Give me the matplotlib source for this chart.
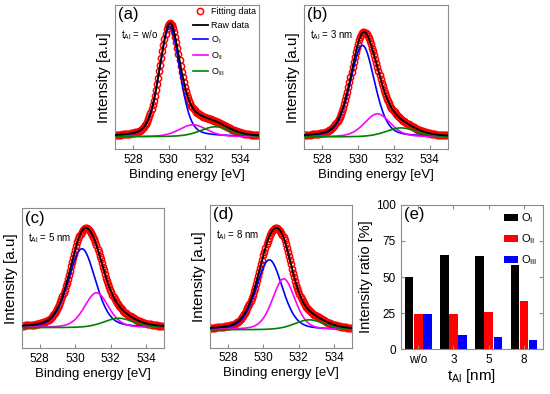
import numpy as np
import matplotlib
matplotlib.use("Agg")
import matplotlib.pyplot as plt
from matplotlib.ticker import MultipleLocator

plt.rcParams['font.family'] = ['Liberation Sans Narrow', 'Liberation Sans', 'DejaVu Sans']
plt.rcParams['mathtext.default'] = 'regular'

# O 1s fitted components for each Al thickness (centre eV, height a.u., FWHM eV)
panel_tags = ["(a)", "(b)", "(c)", "(d)"]
thickness = ["w/o", "3 nm", "5 nm", "8 nm"]
o1_center = [530.05, 530.25, 530.38, 530.34]
o1_height = [110, 91, 79, 70]
o1_fwhm = [1.35, 1.60, 1.80, 1.75]
o2_center = [531.35, 531.08, 531.20, 531.15]
o2_height = [12, 23, 35, 51]
o2_fwhm = [1.80, 1.70, 1.60, 1.50]
o3_center = [532.60, 532.40, 532.45, 532.60]
o3_height = [10, 9, 9.5, 10]
o3_fwhm = [2.00, 2.00, 2.00, 2.00]

# intensity ratio of the components [%]
t_al = ["w/o", "3", "5", "8"]
ratio_o1 = [50, 65, 64.5, 58]
ratio_o2 = [24, 24, 26, 33.5]
ratio_o3 = [24.5, 9.4, 8, 6.6]

energy = np.linspace(527, 535, 400)
sample_energy = np.arange(527.0, 535.01, 0.06)


def peak(e, c, h, fwhm, eta=0.3):
    g = np.exp(-4 * np.log(2) * (e - c) ** 2 / fwhm ** 2)
    lo = 1 / (1 + 4 * (e - c) ** 2 / fwhm ** 2)
    return h * (eta * lo + (1 - eta) * g)


fig = plt.figure(figsize=(5.5, 3.94), dpi=100)
boxes = [[0.209, 0.621, 0.261, 0.366],
         [0.553, 0.621, 0.261, 0.366],
         [0.040, 0.116, 0.258, 0.355],
         [0.382, 0.118, 0.258, 0.362]]
ylims = [(-12.6, 131.7), (-12.3, 131), (-20.6, 119.4), (-17.7, 125)]
spine_col = '#8c8c8c'

for i in range(4):
    ax = fig.add_axes(boxes[i])
    comps = []
    samples = []
    for c, h, f in [(o1_center[i], o1_height[i], o1_fwhm[i]),
                    (o2_center[i], o2_height[i], o2_fwhm[i]),
                    (o3_center[i], o3_height[i], o3_fwhm[i])]:
        comps.append(peak(energy, c, h, f))
        samples.append(peak(sample_energy, c, h, f))
    total = sum(comps)
    ax.plot(sample_energy, sum(samples), 'o', mfc='none', mec='red', ms=4.5,
            mew=1.1, label='Fitting data', zorder=2)
    ax.plot(energy, total, color='black', lw=1.3, label='Raw data', zorder=4)
    ax.plot(energy, comps[0], color='blue', lw=1.2, label='O$_{I}$', zorder=3)
    ax.plot(energy, comps[1], color='magenta', lw=1.2, label='O$_{II}$', zorder=3)
    ax.plot(energy, comps[2], color='green', lw=1.2, label='O$_{III}$', zorder=3)
    ax.set_xlim(527, 535)
    ax.set_ylim(*ylims[i])
    ax.set_yticks([])
    ax.xaxis.set_major_locator(MultipleLocator(2))
    ax.tick_params(axis='x', direction='in', length=3, labelsize=8.5, color=spine_col)
    for sp in ax.spines.values():
        sp.set_color(spine_col)
    ax.set_xlabel('Binding energy [eV]', fontsize=9.5, labelpad=2)
    ax.set_ylabel('Intensity [a.u]', fontsize=11, labelpad=3,
                  family=['Liberation Sans', 'DejaVu Sans'])
    ax.text(0.02, 0.985, panel_tags[i], transform=ax.transAxes, fontsize=12,
            va='top', ha='left')
    ax.text(0.04, 0.79, 't$_{Al}$ = ' + thickness[i], transform=ax.transAxes,
            fontsize=7, va='center', ha='left')
    if i == 0:
        ax.legend(loc='upper right', fontsize=6.5, frameon=False, handlelength=1.6,
                  handletextpad=0.4, labelspacing=0.5, borderaxespad=0.05,
                  borderpad=0.2)

# bar panel
axe = fig.add_axes([0.7285, 0.1142, 0.2593, 0.3655])
x = np.arange(len(t_al))
w = 0.24
axe.bar(x - 0.26, ratio_o1, w, color='black', label='O$_{I}$')
axe.bar(x, ratio_o2, w, color='#ff0000', label='O$_{II}$')
axe.bar(x + 0.26, ratio_o3, w, color='#0000ff', label='O$_{III}$')
axe.set_xlim(-0.5, 3.55)
axe.set_ylim(0, 100)
axe.set_xticks(x)
axe.set_xticklabels(t_al)
axe.set_yticks([0, 25, 50, 75, 100])
axe.tick_params(direction='in', length=3, labelsize=8.5, color=spine_col,
                right=True, top=True)
for sp in axe.spines.values():
    sp.set_color(spine_col)
axe.set_xlabel('t$_{Al}$ [nm]', fontsize=11, labelpad=1)
axe.set_ylabel('Intensity ratio [%]', fontsize=10.5, labelpad=2,
               family=['Liberation Sans', 'DejaVu Sans'])
axe.text(0.02, 0.985, '(e)', transform=axe.transAxes, fontsize=12, va='top', ha='left')
axe.legend(loc='upper right', fontsize=8, frameon=False, handlelength=1.2,
           handleheight=0.6, handletextpad=0.3, labelspacing=0.65,
           borderaxespad=0.15)

fig.savefig('out.png', dpi=100)
